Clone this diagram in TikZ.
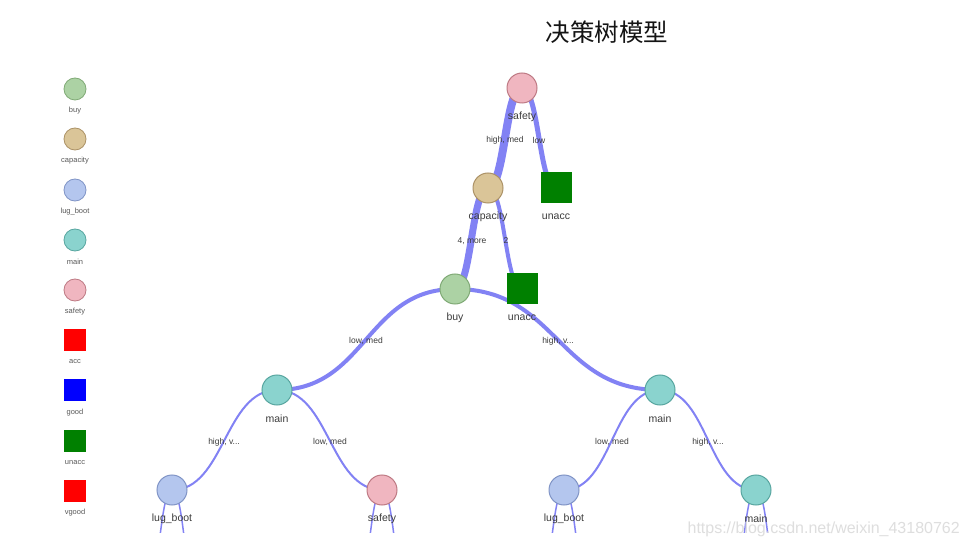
\documentclass[tikz,border=0pt]{standalone}
\usepackage{fontspec}
\setmainfont{Liberation Sans}
\newfontfamily\cjk{Noto Sans CJK SC}
\usetikzlibrary{calc}
\definecolor{edgec}{RGB}{130,130,244}
\definecolor{buyF}{RGB}{172,210,164}\definecolor{buyD}{RGB}{128,170,118}
\definecolor{capF}{RGB}{218,197,152}\definecolor{capD}{RGB}{172,146,102}
\definecolor{lugF}{RGB}{180,198,238}\definecolor{lugD}{RGB}{128,148,198}
\definecolor{mainF}{RGB}{138,211,206}\definecolor{mainD}{RGB}{88,166,160}
\definecolor{safF}{RGB}{240,182,192}\definecolor{safD}{RGB}{190,122,132}
\definecolor{accC}{RGB}{255,0,0}\definecolor{goodC}{RGB}{0,0,255}
\definecolor{unaccC}{RGB}{0,128,0}\definecolor{txt}{RGB}{60,60,60}
\tikzset{
  cnode/.style={circle, minimum size=30, inner sep=0, line width=1},
  lnode/.style={circle, minimum size=22, inner sep=0, line width=0.8},
  sqnode/.style={rectangle, minimum size=31, inner sep=0},
  lsq/.style={rectangle, minimum size=22, inner sep=0},
  lab/.style={font=\fontsize{10.5}{10.5}\selectfont, text=txt, inner sep=0},
  llab/.style={font=\fontsize{7.5}{7.5}\selectfont, text=txt!85, inner sep=0},
  elab/.style={font=\fontsize{8.5}{8.5}\selectfont, text=txt, inner sep=0},
  link/.style={draw=edgec},
}
\newcommand{\lnk}[3]{\draw[link,line width=#1] let \p1=(#2.center), \p2=(#3.center) in (\p1) .. controls ({(\x1+\x2)/2},\y1) and ({(\x1+\x2)/2},\y2) .. (\p2);}
\begin{document}
\begin{tikzpicture}[x=1pt,y=-1pt]
\useasboundingbox (0,0) rectangle (970,548);
\fill[white] (0,0) rectangle (970,548);
% title
\node[text=black!92] (title) at (607,32) {\cjk\fontsize{24.5}{24.5}\selectfont 决策树模型};
% coordinates of nodes
\coordinate (c1) at (522,88);
\coordinate (c2) at (488,188);
\coordinate (c3) at (556,188);
\coordinate (c4) at (455,289);
\coordinate (c5) at (522,289);
\coordinate (c6) at (277,390);
\coordinate (c7) at (660,390);
\coordinate (c8) at (172,490);
\coordinate (c9) at (382,490);
\coordinate (c10) at (564,490);
\coordinate (c11) at (756,490);
% stub children (off picture)
\coordinate (s8a) at (147,590);\coordinate (s8b) at (197,590);
\coordinate (s9a) at (357,590);\coordinate (s9b) at (407,590);
\coordinate (s10a) at (539,590);\coordinate (s10b) at (589,590);
\coordinate (s11a) at (731,590);\coordinate (s11b) at (781,590);
% links
\begin{scope}
\clip (0,0) rectangle (970,532);
\lnk{8}{c1}{c2}
\lnk{5}{c1}{c3}
\lnk{7}{c2}{c4}
\lnk{4}{c2}{c5}
\lnk{4}{c4}{c6}
\lnk{4}{c4}{c7}
\lnk{2}{c6}{c8}
\lnk{2}{c6}{c9}
\lnk{2}{c7}{c10}
\lnk{2}{c7}{c11}
\lnk{1.5}{c8}{s8a}\lnk{1.5}{c8}{s8b}
\lnk{1.5}{c9}{s9a}\lnk{1.5}{c9}{s9b}
\lnk{1.5}{c10}{s10a}\lnk{1.5}{c10}{s10b}
\lnk{1.5}{c11}{s11a}\lnk{1.5}{c11}{s11b}
\end{scope}
% edge labels
\node[elab] (e1) at (505,140) {high, med};
\node[elab] (e2) at (539,140) {low};
\node[elab] (e3) at (472,241) {4, more};
\node[elab] (e4) at (506,241) {2};
\node[elab] (e5) at (366,341) {low, med};
\node[elab] (e6) at (558,341) {high, v...};
\node[elab] (e7) at (224,442) {high, v...};
\node[elab] (e8) at (330,442) {low, med};
\node[elab] (e9) at (612,442) {low, med};
\node[elab] (e10) at (708,442) {high, v...};
% tree nodes
\node[cnode, fill=safF, draw=safD] (n1) at (c1) {};
\node[cnode, fill=capF, draw=capD] (n2) at (c2) {};
\node[sqnode, fill=unaccC] (n3) at (c3) {};
\node[cnode, fill=buyF, draw=buyD] (n4) at (c4) {};
\node[sqnode, fill=unaccC] (n5) at (c5) {};
\node[cnode, fill=mainF, draw=mainD] (n6) at (c6) {};
\node[cnode, fill=mainF, draw=mainD] (n7) at (c7) {};
\node[cnode, fill=lugF, draw=lugD] (n8) at (c8) {};
\node[cnode, fill=safF, draw=safD] (n9) at (c9) {};
\node[cnode, fill=lugF, draw=lugD] (n10) at (c10) {};
\node[cnode, fill=mainF, draw=mainD] (n11) at (c11) {};
% node labels
\node[lab] (t1) at (522,117) {safety};
\node[lab] (t2) at (488,217) {capacity};
\node[lab] (t3) at (556,217) {unacc};
\node[lab] (t4) at (455,318) {buy};
\node[lab] (t5) at (522,318) {unacc};
\node[lab] (t6) at (277,419) {main};
\node[lab] (t7) at (660,419) {main};
\node[lab] (t8) at (172,519) {lug\_boot};
\node[lab] (t9) at (382,519) {safety};
\node[lab] (t10) at (564,519) {lug\_boot};
\node[lab] (t11) at (756,519) {main};
% legend
\node[lnode, fill=buyF, draw=buyD] (g1) at (75,89) {};
\node[llab] at (75,111) {buy};
\node[lnode, fill=capF, draw=capD] (g2) at (75,139) {};
\node[llab] at (75,161) {capacity};
\node[lnode, fill=lugF, draw=lugD] (g3) at (75,190) {};
\node[llab] at (75,212) {lug\_boot};
\node[lnode, fill=mainF, draw=mainD] (g4) at (75,240) {};
\node[llab] at (75,262) {main};
\node[lnode, fill=safF, draw=safD] (g5) at (75,290) {};
\node[llab] at (75,312) {safety};
\node[lsq, fill=accC] (g6) at (75,340) {};
\node[llab] at (75,362) {acc};
\node[lsq, fill=goodC] (g7) at (75,390) {};
\node[llab] at (75,413) {good};
\node[lsq, fill=unaccC] (g8) at (75,441) {};
\node[llab] at (75,463) {unacc};
\node[lsq, fill=accC] (g9) at (75,491) {};
\node[llab] at (75,513) {vgood};
% watermark
\node[font=\fontsize{16}{16}\selectfont, text=black!13, anchor=east, inner sep=0] (wm) at (960,529) {https://blog.csdn.net/weixin\_43180762};
\end{tikzpicture}
\end{document}
